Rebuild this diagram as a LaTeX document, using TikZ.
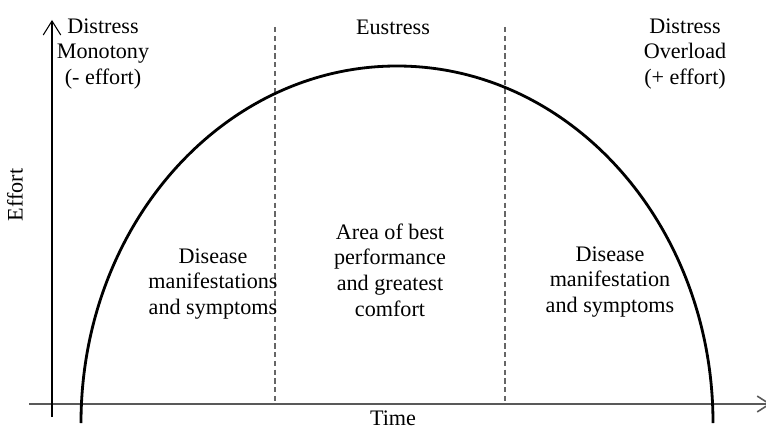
\documentclass[tikz,border=0pt]{standalone}
\usepackage{fontspec}
\setmainfont{Liberation Serif}
\usetikzlibrary{arrows.meta}

\tikzset{
  lbl/.style={align=center, inner sep=0pt, font=\fontsize{12.6}{14.6}\selectfont},
  divider/.style={gray!80!black, dash pattern=on 3pt off 2pt, line width=0.6pt},
}

\begin{document}
\begin{tikzpicture}[x=0.02cm, y=-0.02cm]
    \useasboundingbox (0,0) rectangle (766,432);

    % axes
    \coordinate (o) at (52,417);
    \coordinate (ytop) at (52,20);
    \coordinate (xl) at (29,404);
    \coordinate (xr) at (771,404);
    \draw[gray!70!black, line width=0.9pt, -{Straight Barb[length=7pt, width=9pt]}] (xl) -- (xr);
    \draw[line width=0.6pt, -{Straight Barb[length=8pt, width=10pt]}] (o) -- (ytop);

    % zone borders
    \coordinate (d1t) at (275,27);
    \coordinate (d1b) at (275,404);
    \coordinate (d2t) at (505,27);
    \coordinate (d2b) at (505,404);
    \draw[divider] (d1t) -- (d1b);
    \draw[divider] (d2t) -- (d2b);

    % effort curve
    \coordinate (cstart) at (81,423);
    \draw[line width=1.6pt] (cstart) arc[start angle=180, end angle=360, x radius=316, y radius=357];

    % labels
    \node[lbl] (mono) at (103,54) {Distress\\Monotony\\(- effort)};
    \node[lbl] (eu) at (393,27) {Eustress};
    \node[lbl] (over) at (685,54) {Distress\\Overload\\(+ effort)};
    \node[lbl, rotate=90] (effort) at (15,195) {Effort};
    \node[lbl] (dleft) at (213,284) {Disease\\manifestations\\and symptoms};
    \node[lbl] (best) at (390,270) {Area of best\\performance\\and greatest\\comfort};
    \node[lbl] (dright) at (610,282) {Disease\\manifestation\\and symptoms};
    \node[lbl] (time) at (393,418) {Time};
\end{tikzpicture}
\end{document}
